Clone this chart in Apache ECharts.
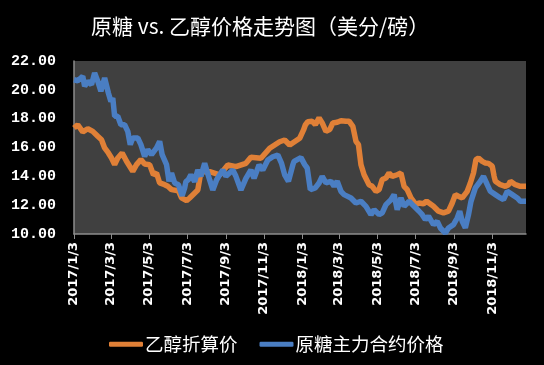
<!DOCTYPE html>
<html>
<head>
<meta charset="utf-8">
<script src="https://cdn.jsdelivr.net/npm/echarts@6/dist/echarts.min.js"></script>
<style>
html,body{margin:0;padding:0;background:#000;}
#chart{width:544px;height:365px;}
</style>
</head>
<body>
<div id="chart"></div>
<script>
const titleText = '原糖 vs. 乙醇价格走势图（美分/磅）';
const seriesNames = ['乙醇折算价', '原糖主力合约价格'];
const yTicks = [10, 12, 14, 16, 18, 20, 22];
const xTickDates = ['2017-01-03','2017-03-03','2017-05-03','2017-07-03','2017-09-03','2017-11-03',
  '2018-01-03','2018-03-03','2018-05-03','2018-07-03','2018-09-03','2018-11-03'];
const xMin = '2017-01-03';
const xMax = '2018-12-27';

const ethanolDates = ['2017-01-03','2017-01-09','2017-01-17','2017-01-25','2017-02-02','2017-02-10','2017-02-16','2017-02-21','2017-02-27',
  '2017-03-04','2017-03-09','2017-03-14','2017-03-21','2017-03-28','2017-04-02','2017-04-07','2017-04-13','2017-04-20','2017-04-26',
  '2017-05-04','2017-05-10','2017-05-15','2017-05-20','2017-05-28','2017-06-02','2017-06-08','2017-06-19','2017-06-24','2017-07-02',
  '2017-07-07','2017-07-20','2017-07-25','2017-08-08','2017-08-24','2017-09-06','2017-09-19','2017-10-05','2017-10-13','2017-10-29',
  '2017-11-12','2017-11-28','2017-12-06','2017-12-14','2017-12-30','2018-01-05','2018-01-08','2018-01-12','2018-01-19','2018-01-24',
  '2018-01-30','2018-02-04','2018-02-10','2018-02-16','2018-02-21','2018-02-28','2018-03-06','2018-03-14','2018-03-19','2018-03-25',
  '2018-03-30','2018-04-03','2018-04-07','2018-04-12','2018-04-20','2018-04-25','2018-05-01','2018-05-06','2018-05-11','2018-05-17',
  '2018-05-22','2018-05-27','2018-06-04','2018-06-10','2018-06-15','2018-06-20','2018-06-26','2018-07-04','2018-07-09','2018-07-16',
  '2018-07-21','2018-08-01','2018-08-09','2018-08-17','2018-08-25','2018-08-31','2018-09-05','2018-09-10','2018-09-16','2018-09-24',
  '2018-09-29','2018-10-04','2018-10-08','2018-10-12','2018-10-18','2018-10-23','2018-10-28','2018-11-03','2018-11-06','2018-11-08',
  '2018-11-16','2018-11-24','2018-11-29','2018-12-02','2018-12-10','2018-12-18','2018-12-27'];
const ethanolValues = [17.35,17.58,17.08,17.30,17.12,16.78,16.54,15.97,15.62,
  15.27,14.81,15.27,15.62,15.04,14.70,14.35,14.81,15.16,14.86,
  14.81,14.11,14.23,13.54,13.42,13.31,13.08,13.00,12.50,12.31,
  12.50,13.05,14.32,14.32,14.10,14.79,14.67,14.90,15.32,15.25,
  15.95,16.40,16.52,16.17,16.64,17.20,17.56,17.79,17.82,17.58,
  18.05,17.70,17.12,17.24,17.70,17.75,17.86,17.82,17.82,17.47,
  16.43,16.20,14.81,14.11,13.42,13.31,12.96,13.08,13.77,13.88,
  14.23,14.00,14.11,14.23,13.31,13.08,12.50,12.04,12.15,12.10,
  12.27,11.92,11.58,11.46,11.58,12.15,12.73,12.62,12.50,12.96,
  13.54,14.23,15.16,15.27,15.04,14.93,14.90,14.70,14.00,13.66,
  13.42,13.31,13.42,13.66,13.42,13.31,13.31];

const sugarDates = ['2017-01-03','2017-01-09','2017-01-17','2017-01-20','2017-01-25','2017-01-31','2017-02-05','2017-02-10','2017-02-15',
  '2017-02-21','2017-02-27','2017-03-03','2017-03-06','2017-03-09','2017-03-14','2017-03-19','2017-03-25','2017-03-30','2017-04-03',
  '2017-04-07','2017-04-15','2017-04-20','2017-04-26','2017-05-01','2017-05-07','2017-05-15','2017-05-20','2017-05-24','2017-05-31',
  '2017-06-04','2017-06-08','2017-06-13','2017-06-19','2017-06-25','2017-06-29','2017-07-01','2017-07-05','2017-07-09','2017-07-15',
  '2017-07-20','2017-07-25','2017-07-31','2017-08-08','2017-08-13','2017-08-19','2017-08-24','2017-08-29','2017-09-03','2017-09-14',
  '2017-09-19','2017-09-27','2017-10-05','2017-10-13','2017-10-18','2017-10-26','2017-11-01','2017-11-09','2017-11-17','2017-11-25',
  '2017-12-01','2017-12-06','2017-12-12','2017-12-19','2017-12-21','2018-01-01','2018-01-07','2018-01-11','2018-01-16','2018-01-24',
  '2018-01-30','2018-02-04','2018-02-10','2018-02-18','2018-02-23','2018-02-28','2018-03-06','2018-03-11','2018-03-22','2018-03-30',
  '2018-04-07','2018-04-15','2018-04-23','2018-04-28','2018-05-06','2018-05-11','2018-05-17','2018-05-25','2018-05-30','2018-06-04',
  '2018-06-10','2018-06-15','2018-06-23','2018-07-01','2018-07-09','2018-07-14','2018-07-19','2018-07-24','2018-08-01','2018-08-07',
  '2018-08-12','2018-08-20','2018-08-25','2018-09-02','2018-09-08','2018-09-12','2018-09-16','2018-09-21','2018-09-26','2018-09-30',
  '2018-10-07','2018-10-15','2018-10-20','2018-10-26','2018-10-31','2018-11-08','2018-11-16','2018-11-21','2018-11-27','2018-12-05',
  '2018-12-13','2018-12-18','2018-12-27'];
const sugarValues = [20.70,20.63,20.94,20.25,20.60,20.36,21.17,20.60,19.90,
  20.82,19.78,19.20,19.43,18.17,18.17,17.58,17.58,17.12,16.20,
  16.66,16.66,16.20,15.39,15.85,15.50,15.97,16.43,15.50,14.81,
  13.66,14.23,13.54,13.42,12.65,13.20,13.63,13.77,14.10,13.63,
  14.44,14.00,14.90,13.75,13.05,13.75,14.10,14.44,14.00,14.44,
  14.00,13.05,13.86,14.44,13.86,14.79,14.44,15.13,15.36,15.48,
  14.90,14.10,13.65,14.79,15.04,15.30,14.81,14.58,13.08,13.20,
  13.54,14.00,13.54,13.66,13.31,13.66,12.96,12.73,12.50,12.15,
  12.27,11.92,11.34,11.69,11.34,11.46,12.04,12.38,12.73,11.69,
  12.50,11.92,12.27,11.92,11.58,11.34,11.00,11.23,10.65,10.88,
  10.42,10.07,10.42,10.65,11.11,11.58,10.88,10.42,11.34,12.27,
  13.20,13.66,14.00,13.42,12.96,12.73,12.50,12.38,12.96,12.73,
  12.50,12.27,12.27];

function toTs(s) { const p = s.split('-').map(Number); return Date.UTC(p[0], p[1] - 1, p[2]); }
function pairs(dates, vals) { return dates.map((d, i) => [toTs(d), vals[i]]); }
const tickTs = xTickDates.map(toTs);

const chart = echarts.init(document.getElementById('chart'), null, {renderer: 'canvas'});
chart.setOption({
  backgroundColor: '#000000',
  animation: false,
  title: {
    text: titleText,
    left: 86, top: 11,
    textStyle: {color: '#ffffff', fontSize: 21, fontWeight: 'normal', fontFamily: 'Noto Sans CJK SC'}
  },
  legend: {
    data: seriesNames,
    left: 104, top: 330,
    itemWidth: 34, itemHeight: 5, itemGap: 22,
    icon: 'roundRect',
    textStyle: {color: '#ffffff', fontSize: 18.5, fontFamily: 'Noto Sans CJK SC', padding: [0, 0, 0, -3]}
  },
  grid: {
    left: 74, right: 18, top: 61, bottom: 131,
    show: true, backgroundColor: '#404040', borderWidth: 0
  },
  xAxis: {
    type: 'value',
    min: toTs(xMin), max: toTs(xMax),
    axisLine: {show: true, lineStyle: {color: '#8c8c8c', width: 1.5}},
    axisTick: {show: true, customValues: tickTs, length: 5, lineStyle: {color: '#8c8c8c'}},
    splitLine: {show: false},
    axisLabel: {
      customValues: tickTs, rotate: 90, margin: 8,
      color: '#ffffff', fontSize: 13, fontWeight: 'bold', fontFamily: 'DejaVu Sans',
      formatter: function (v) { const d = new Date(v); return d.getUTCFullYear() + '/' + (d.getUTCMonth() + 1) + '/' + d.getUTCDate(); }
    }
  },
  yAxis: {
    type: 'value',
    min: yTicks[0], max: yTicks[yTicks.length - 1], interval: 2,
    axisLine: {show: true, lineStyle: {color: '#8c8c8c', width: 1.5}},
    axisTick: {show: false},
    splitLine: {show: false},
    axisLabel: {
      margin: 18, color: '#ffffff', fontSize: 15, fontWeight: 'bold', fontFamily: 'Liberation Mono',
      formatter: function (v) { return v.toFixed(2); }
    }
  },
  series: [
    {name: seriesNames[0], type: 'line', data: pairs(ethanolDates, ethanolValues), symbol: 'none',
     lineStyle: {width: 5.5, color: '#E08037'}, itemStyle: {color: '#E08037'}},
    {name: seriesNames[1], type: 'line', data: pairs(sugarDates, sugarValues), symbol: 'none',
     lineStyle: {width: 5.5, color: '#4A7EC3'}, itemStyle: {color: '#4A7EC3'}}
  ]
});
</script>
</body>
</html>
